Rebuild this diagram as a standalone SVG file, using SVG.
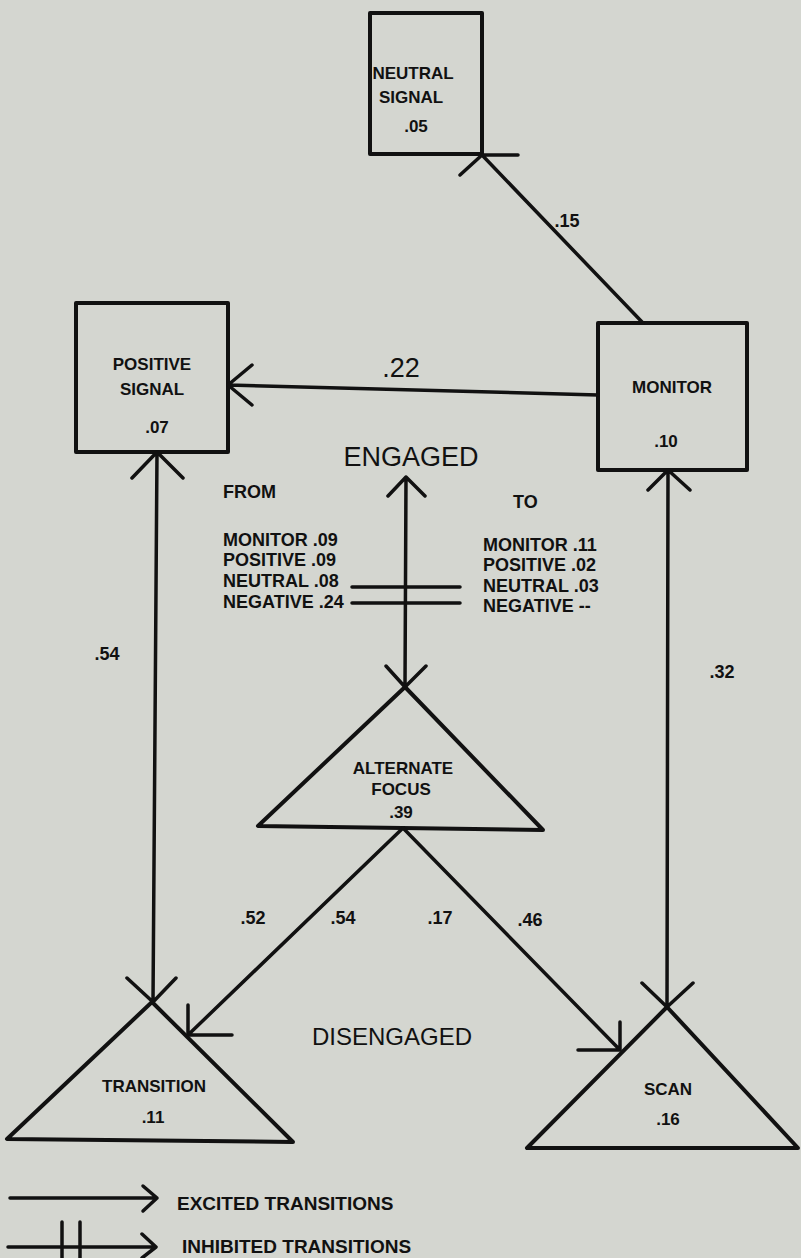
<svg xmlns="http://www.w3.org/2000/svg" width="801" height="1258" viewBox="0 0 801 1258">
<style>
.shape{fill:none;stroke:#111;stroke-width:4;stroke-linejoin:round;stroke-linecap:round}
.ln{fill:none;stroke:#111;stroke-width:3.5;stroke-linecap:round;stroke-linejoin:round}
.lbl{font-family:"Liberation Sans",Arial,sans-serif;font-weight:bold;font-size:17px;fill:#111;text-anchor:middle}
.lst{font-family:"Liberation Sans",Arial,sans-serif;font-weight:bold;font-size:18px;fill:#111}
.leg{font-family:"Liberation Sans",Arial,sans-serif;font-weight:bold;font-size:19px;fill:#111}
.big{font-family:"Liberation Sans",Arial,sans-serif;font-size:27px;fill:#111;text-anchor:middle}
.num{font-family:"Liberation Sans",Arial,sans-serif;font-weight:bold;font-size:18px;fill:#111;text-anchor:middle}
</style>
<rect width="801" height="1258" fill="#d4d6d0"/>

<g id="neutral-signal">
<rect class="shape" x="370" y="13" width="112" height="141"/>
<text class="lbl" x="413" y="79">NEUTRAL</text>
<text class="lbl" x="411" y="103">SIGNAL</text>
<text class="lbl" x="416" y="132">.05</text>
</g>

<g id="positive-signal">
<rect class="shape" x="76" y="303" width="152" height="149"/>
<text class="lbl" x="152" y="370">POSITIVE</text>
<text class="lbl" x="152" y="395">SIGNAL</text>
<text class="lbl" x="157" y="433">.07</text>
</g>

<g id="monitor">
<rect class="shape" x="598" y="323" width="149" height="147"/>
<text class="lbl" x="672" y="393">MONITOR</text>
<text class="lbl" x="666" y="447">.10</text>
</g>

<g id="alternate-focus">
<polygon class="shape" points="405,687 258,826 543,830"/>
<text class="lbl" x="403" y="774">ALTERNATE</text>
<text class="lbl" x="401" y="795">FOCUS</text>
<text class="lbl" x="401" y="818">.39</text>
</g>

<g id="transition">
<polygon class="shape" points="152,1002 7,1139 293,1142"/>
<text class="lbl" x="154" y="1092">TRANSITION</text>
<text class="lbl" x="153" y="1123">.11</text>
</g>

<g id="scan">
<polygon class="shape" points="667,1007 527,1148 798,1148"/>
<text class="lbl" x="668" y="1095">SCAN</text>
<text class="lbl" x="668" y="1125">.16</text>
</g>

<g id="connectors">
<path class="ln" d="M643,323 L482,155 M518,155 L482,155 L460,175"/>
<path class="ln" d="M598,395 L228,385 M252,365 L228,385 L252,405"/>
<path class="ln" d="M157,452 L153,1002 M132,478 L157,452 L183,478 M127,978 L153,1002 L176,978"/>
<path class="ln" d="M668,470 L667,1007 M648,490 L668,470 L690,490 M642,983 L667,1007 L693,983"/>
<path class="ln" d="M406,477 L405,687 M388,496 L406,477 L425,496 M386,666 L405,687 L426,666"/>
<path class="ln" d="M403,828 L188,1035 M188,1005 L188,1035 L232,1035"/>
<path class="ln" d="M403,828 L620,1050 M620,1022 L620,1050 L578,1050"/>
<path class="ln" d="M352,587 L460,587 M352,603 L460,603"/>
</g>

<g id="labels">
<text class="num" x="567" y="227">.15</text>
<text class="big" x="401" y="377">.22</text>
<text class="big" x="411" y="466">ENGAGED</text>
<text class="big" x="392" y="1045" style="font-size:24px">DISENGAGED</text>
<text class="num" x="107" y="660">.54</text>
<text class="num" x="722" y="678">.32</text>
<text class="num" x="253" y="924">.52</text>
<text class="num" x="343" y="924">.54</text>
<text class="num" x="440" y="924">.17</text>
<text class="num" x="530" y="926">.46</text>
<text class="lst" x="223" y="498">FROM</text>
<text class="lst" x="513" y="508">TO</text>
<text class="lst" x="223" y="546">MONITOR .09</text>
<text class="lst" x="223" y="566">POSITIVE .09</text>
<text class="lst" x="223" y="587">NEUTRAL .08</text>
<text class="lst" x="223" y="608">NEGATIVE .24</text>
<text class="lst" x="483" y="551">MONITOR .11</text>
<text class="lst" x="483" y="571">POSITIVE .02</text>
<text class="lst" x="483" y="592">NEUTRAL .03</text>
<text class="lst" x="483" y="612">NEGATIVE --</text>
</g>

<g id="legend">
<path class="ln" d="M10,1198 L157,1198 M143,1186 L157,1198 L143,1211"/>
<path class="ln" d="M8,1247 L155,1247 M142,1234 L156,1247 L142,1258 M62,1222 L62,1258 M80,1222 L80,1258"/>
<text class="leg" x="177" y="1210">EXCITED TRANSITIONS</text>
<text class="leg" x="182" y="1253">INHIBITED TRANSITIONS</text>
</g>
</svg>
